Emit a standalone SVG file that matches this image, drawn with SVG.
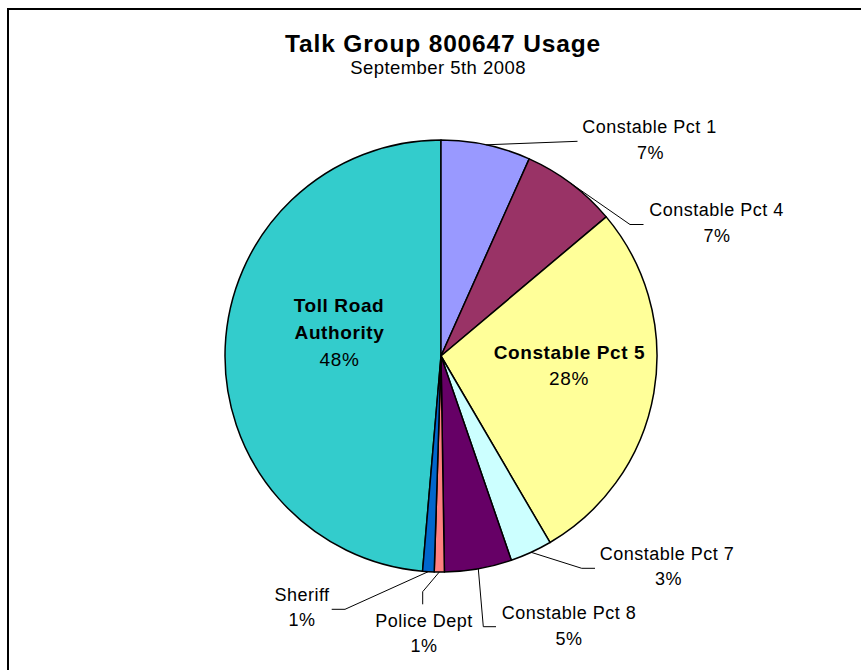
<svg xmlns="http://www.w3.org/2000/svg" width="861" height="670" viewBox="0 0 861 670">
  <style>
    .slice { stroke: #000; stroke-width: 1.5; stroke-linejoin: round; }
    .lbl { font-family: "Liberation Sans", Arial, sans-serif; font-size: 18px; letter-spacing: 0.5px; fill: #000; text-anchor: middle; }
    .in { font-family: "Liberation Sans", Arial, sans-serif; font-size: 19px; letter-spacing: 0.6px; fill: #000; text-anchor: middle; }
    .b { font-weight: bold; }
    .lead { fill: none; stroke: #000; stroke-width: 1; }
  </style>
  <rect x="0" y="0" width="861" height="670" fill="#fff"/>
  <rect x="8" y="9" width="900" height="700" fill="none" stroke="#000" stroke-width="2"/>

  <g id="title">
    <text x="443" y="51.8" font-family="Liberation Sans, Arial, sans-serif" font-size="24.5" font-weight="bold" letter-spacing="0.85" text-anchor="middle">Talk Group 800647 Usage</text>
    <text x="438" y="74" font-family="Liberation Sans, Arial, sans-serif" font-size="18.5" letter-spacing="0.45" text-anchor="middle">September 5th 2008</text>
  </g>

  <g id="toll-road-authority">
    <path class="slice" fill="#33CCCC" d="M441,356 L422.55,571.21 A216,216 0 0 1 441,140 Z"/>
    <text class="in b" x="339" y="311.5">Toll Road</text>
    <text class="in b" x="339.5" y="338.5">Authority</text>
    <text class="in" x="339.5" y="365.5">48%</text>
  </g>
  <g id="constable-pct-1">
    <path class="slice" fill="#9999FF" d="M441,356 L441,140 A216,216 0 0 1 529.2,158.83 Z"/>
    <text class="lbl" x="649.5" y="133">Constable Pct 1</text>
    <text class="lbl" x="650.5" y="158.5">7%</text>
  </g>
  <g id="constable-pct-4">
    <path class="slice" fill="#993366" d="M441,356 L529.2,158.83 A216,216 0 0 1 606.22,216.87 Z"/>
    <text class="lbl" x="716.5" y="216">Constable Pct 4</text>
    <text class="lbl" x="717" y="241.7">7%</text>
  </g>
  <g id="constable-pct-5">
    <path class="slice" fill="#FFFF99" d="M441,356 L606.22,216.87 A216,216 0 0 1 549.98,542.49 Z"/>
    <text class="in b" x="569.5" y="358.5">Constable Pct 5</text>
    <text class="in" x="569" y="385">28%</text>
  </g>
  <g id="constable-pct-7">
    <path class="slice" fill="#CCFFFF" d="M441,356 L549.98,542.49 A216,216 0 0 1 511.32,560.23 Z"/>
    <text class="lbl" x="667" y="560">Constable Pct 7</text>
    <text class="lbl" x="668.5" y="585">3%</text>
  </g>
  <g id="constable-pct-8">
    <path class="slice" fill="#660066" d="M441,356 L511.32,560.23 A216,216 0 0 1 444.39,571.97 Z"/>
    <text class="lbl" x="569" y="619">Constable Pct 8</text>
    <text class="lbl" x="569" y="645">5%</text>
  </g>
  <g id="police-dept">
    <path class="slice" fill="#FF8080" d="M441,356 L444.39,571.97 A216,216 0 0 1 434.22,571.89 Z"/>
    <text class="lbl" x="424" y="627.3">Police Dept</text>
    <text class="lbl" x="424" y="651.7">1%</text>
  </g>
  <g id="sheriff">
    <path class="slice" fill="#0066CC" d="M441,356 L434.22,571.89 A216,216 0 0 1 422.55,571.21 Z"/>
    <text class="lbl" x="302" y="600.7">Sheriff</text>
    <text class="lbl" x="302" y="626">1%</text>
  </g>

  <g id="connectors">
    <polyline class="lead" points="486.1,144.8 577.5,141.3"/>
    <polyline class="lead" points="571,183.5 630,224.5 643.5,224.5"/>
    <polyline class="lead" points="531.1,552.3 581.7,568.3 595,568.3"/>
    <polyline class="lead" points="478.3,568.8 483.3,626.7 496,626.7"/>
    <polyline class="lead" points="439.3,572 422.7,591.7 422.7,604.3"/>
    <polyline class="lead" points="428.4,571.6 345,609.3 331.7,609.3"/>
  </g>
</svg>
